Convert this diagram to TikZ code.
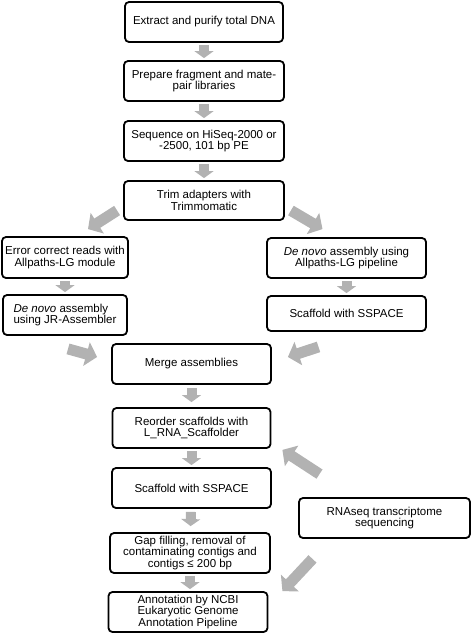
\documentclass[tikz,border=0pt]{standalone}
\usepackage{fontspec}
\setmainfont{Liberation Sans}
\usetikzlibrary{arrows.meta}
\definecolor{arrowgray}{RGB}{178,178,178}

\begin{document}
\begin{tikzpicture}[x=1pt,y=-1pt,
  box/.style={draw, line width=1.8pt, rounded corners=4pt, minimum height=40pt,
    align=center, inner sep=2pt, font=\fontsize{11.5}{11.3}\selectfont},
  down/.style={draw=arrowgray, line width=10pt, -{Triangle[width=19pt,length=7pt]},
    shorten <=2pt, shorten >=2pt},
  fat/.style={draw=arrowgray, line width=11pt, -{Triangle[width=24pt,length=11pt]}}]

\useasboundingbox (0,0) rectangle (472,635);

\node[box, minimum width=158pt] (extract) at (204,22) {Extract and purify total DNA};
\node[box, minimum width=160pt] (prep) at (204,81) {Prepare fragment and mate-\\pair libraries};
\node[box, minimum width=160pt] (seq) at (204,141) {Sequence on HiSeq-2000 or\\-2500, 101 bp PE};
\node[box, minimum width=160pt, minimum height=39pt] (trim) at (204,200.5) {Trim adapters with\\Trimmomatic};

\node[box, minimum width=126pt, minimum height=41pt] (errcorr) at (65,257.5) {Error correct reads with\\Allpaths-LG module};
\node[box, minimum width=124pt, align=left] (jrasm) at (65,315) {\textit{De novo} assembly\\using JR-Assembler};
\node[box, minimum width=159pt] (allpaths) at (346.5,258) {\textit{De novo} assembly using\\Allpaths-LG pipeline};
\node[box, minimum width=159pt, minimum height=35pt] (sspace1) at (346.5,313.5) {Scaffold with SSPACE};

\node[box, minimum width=159pt] (merge) at (191.5,364) {Merge assemblies};
\node[box, minimum width=158pt] (reorder) at (191.5,428) {Reorder scaffolds with\\L\_RNA\_Scaffolder};
\node[box, minimum width=159pt] (sspace2) at (191.5,488) {Scaffold with SSPACE};
\node[box, minimum width=160pt] (gap) at (190,553) {Gap filling, removal of\\contaminating contigs and\\contigs ≤ 200 bp};
\node[box, minimum width=159pt] (annot) at (188,612) {Annotation by NCBI\\Eukaryotic Genome\\Annotation Pipeline};

\node[box, minimum width=171pt] (rnaseq) at (384.5,518) {RNAseq transcriptome\\sequencing};

\draw[down] (extract) -- (prep);
\draw[down] (prep) -- (seq);
\draw[down] (seq) -- (trim);
\draw[down] (errcorr) -- (jrasm);
\draw[down] (allpaths) -- (sspace1);
\draw[down, shorten <=3pt, shorten >=5pt] (merge) -- (reorder);
\draw[down] (reorder) -- (sspace2);
\draw[down, shorten <=3pt, shorten >=6pt] (sspace2) -- (gap);
\draw[down] (gap.south) -- (gap.south |- annot.north);

\draw[fat] ([shift={(-6,10)}]trim.west) -- ([shift={(23,-7)}]errcorr.north);
\draw[fat] ([shift={(6,10)}]trim.east) -- ([shift={(-24,-8)}]allpaths.north);
\draw[fat] ([shift={(3,13)}]jrasm.south) -- ([shift={(-14,-7)}]merge.west);
\draw[fat] ([shift={(-28,15)}]sspace1.south) -- ([shift={(16,-7)}]merge.east);
\draw[fat] ([shift={(-65,-23)}]rnaseq.north) -- ([shift={(11,1)}]reorder.south east);
\draw[fat] ([shift={(-72,20)}]rnaseq.south) -- ([shift={(14,0)}]annot.north east);

\end{tikzpicture}
\end{document}
